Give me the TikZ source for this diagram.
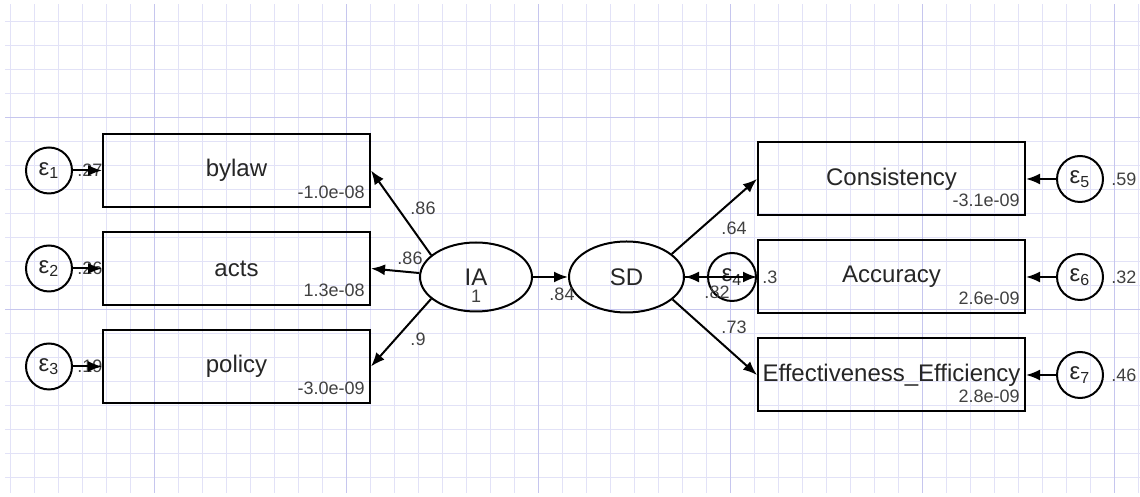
\documentclass[tikz,border=0pt]{standalone}
\usepackage{fontspec}
\setmainfont{Liberation Sans}
\usetikzlibrary{shapes.geometric, arrows.meta, positioning}

\definecolor{gridminor}{RGB}{226,226,247}
\definecolor{gridmajor}{RGB}{198,198,238}

\tikzset{
    obsbox/.style={rectangle, draw, line width=1pt, minimum width=133.5pt, minimum height=36.5pt, inner sep=0pt, text=black!85, font=\fontsize{12}{14}\selectfont},
    latent/.style={ellipse, draw, line width=1pt, inner sep=0pt, text=black!85, font=\fontsize{12}{14}\selectfont},
    errcircle/.style={circle, draw, line width=1pt, minimum size=23pt, inner sep=0pt, text=black!85, font=\fontsize{12}{14}\selectfont},
    parlabel/.style={inner sep=1pt, text=black!75, font=\fontsize{9}{10}\selectfont},
    causal/.style={line width=1pt, -{Latex[length=7pt,width=5.5pt]}},
}

\begin{document}
\begin{tikzpicture}[x=0.5pt, y=0.5pt, node distance=11.5pt]
    \useasboundingbox (0,0) rectangle (1140,497);
    % grid paper
    \foreach \gx in {10,34,...,1138} \draw [gridminor, line width=0.5pt] (\gx,4) -- (\gx,493);
    \foreach \gy in {19,43,...,475} \draw [gridminor, line width=0.5pt] (5,\gy) -- (1140,\gy);
    \foreach \gx in {154,346,...,1114} \draw [gridmajor, line width=0.5pt] (\gx,4) -- (\gx,493);
    \foreach \gy in {187,379} \draw [gridmajor, line width=0.5pt] (5,\gy) -- (1140,\gy);

    % measurement side of IA
    \node (acts) [obsbox] at (236.5,228.5) {acts};
    \node (bylaw) [obsbox, above=of acts] {bylaw};
    \node (policy) [obsbox, below=of acts] {policy};
    \node (e1) [errcircle, left=14.5pt of bylaw] {ε\textsubscript{1}};
    \node (e2) [errcircle, left=14.5pt of acts] {ε\textsubscript{2}};
    \node (e3) [errcircle, left=14.5pt of policy] {ε\textsubscript{3}};

    % latent variables
    \node (IA) [latent, minimum width=56pt, minimum height=34.5pt] at (476,220) {IA};
    \node (SD) [latent, minimum width=57.5pt, minimum height=35.5pt, right=17.5pt of IA] {SD};
    \node (IAmean) [parlabel] at (476,200.5) {1};

    % measurement side of SD
    \node (accu) [obsbox] at (891.5,220) {Accuracy};
    \node (cons) [obsbox, above=of accu] {Consistency};
    \node (eff) [obsbox, below=of accu] {Effectiveness\_Efficiency};
    \node (e4) [errcircle, minimum size=24pt, left=0pt of accu] {ε\textsubscript{4}};
    \node (e5) [errcircle, right=15pt of cons] {ε\textsubscript{5}};
    \node (e6) [errcircle, right=15pt of accu] {ε\textsubscript{6}};
    \node (e7) [errcircle, right=15pt of eff] {ε\textsubscript{7}};

    % intercepts
    \node (ibylaw) [parlabel, anchor=south east] at ([xshift=-2pt, yshift=3.5pt]bylaw.south east) {-1.0e-08};
    \node (iacts) [parlabel, anchor=south east] at ([xshift=-2pt, yshift=3.5pt]acts.south east) {1.3e-08};
    \node (ipolicy) [parlabel, anchor=south east] at ([xshift=-2pt, yshift=3.5pt]policy.south east) {-3.0e-09};
    \node (icons) [parlabel, anchor=south east] at ([xshift=-2pt, yshift=3.5pt]cons.south east) {-3.1e-09};
    \node (iaccu) [parlabel, anchor=south east] at ([xshift=-2pt, yshift=3.5pt]accu.south east) {2.6e-09};
    \node (ieff) [parlabel, anchor=south east] at ([xshift=-2pt, yshift=3.5pt]eff.south east) {2.8e-09};

    % error variances
    \node (v1) [parlabel, right=1pt of e1] {.27};
    \node (v2) [parlabel, right=1pt of e2] {.26};
    \node (v3) [parlabel, right=1pt of e3] {.19};
    \node (v4) [parlabel, right=1.5pt of e4] {.3};
    \node (v5) [parlabel, right=2.5pt of e5] {.59};
    \node (v6) [parlabel, right=2.5pt of e6] {.32};
    \node (v7) [parlabel, right=2.5pt of e7] {.46};

    % path coefficients
    \node (lbylaw) [parlabel] at (423,289) {.86};
    \node (lacts) [parlabel] at (410,239) {.86};
    \node (lpolicy) [parlabel] at (418,158) {.9};
    \node (lsd) [parlabel] at (562,203) {.84};
    \node (lcons) [parlabel] at (734,269) {.64};
    \node (laccu) [parlabel] at (717,205) {.82};
    \node (leff) [parlabel] at (734,170) {.73};

    \draw [causal] (IA.154) -- (bylaw.east);
    \draw [causal] (IA.176) -- (acts.east);
    \draw [causal] (IA.206) -- (policy.east);
    \draw [causal] (IA.east) -- (SD.west);
    \draw [causal] (SD.27) -- (cons.west);
    \draw [causal] (SD.east) -- (accu.west);
    \draw [causal] (SD.-26) -- (eff.west);
    \draw [causal] (e4.west) -- (SD.east);

    \draw [causal] (e1) -- (bylaw);
    \draw [causal] (e2) -- (acts);
    \draw [causal] (e3) -- (policy);
    \draw [causal] (e5) -- (cons);
    \draw [causal] (e6) -- (accu);
    \draw [causal] (e7) -- (eff);
\end{tikzpicture}
\end{document}
